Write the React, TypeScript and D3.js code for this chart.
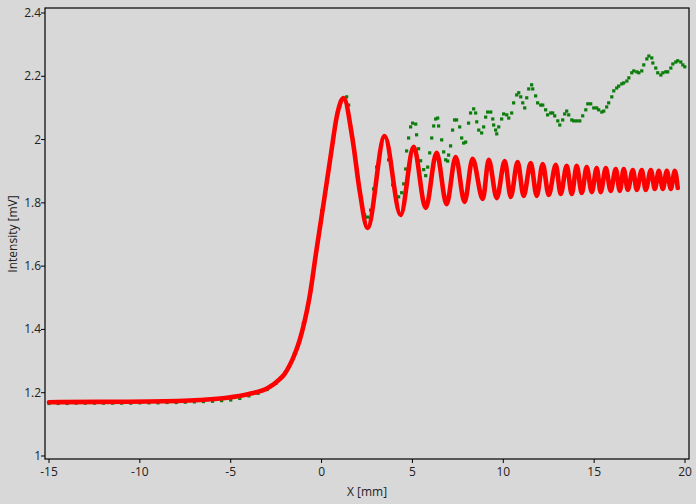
import React from "react";
import * as d3 from "d3";

const xTicks = [-15, -10, -5, 0, 5, 10, 15, 20];
const yTicks = [1, 1.2, 1.4, 1.6, 1.8, 2, 2.2, 2.4];
const xLabel = "X [mm]";
const yLabel = "Intensity [mV]";

// red (fitted/theoretical) curve: x, y
const redX = [-15.0, -12.2, -9.5, -6.7, -5.2, -4.0, -3.0, -2.3, -2.04, -1.76, -1.49, -1.21, -0.94, -0.66, -0.28, 0.14, 0.55, 0.83, 1.21, 1.71, 2.09,
  2.53, 3.47, 4.35, 5.07, 5.73, 6.33, 6.88, 7.38, 7.87, 8.31, 8.87, 9.2, 9.64, 10.08, 10.41, 10.79, 11.12, 11.51, 11.84, 12.17,
  12.5, 12.89, 13.16, 13.49, 13.77, 14.04, 14.32, 14.59, 14.87, 15.14, 15.36, 15.64, 15.91, 16.19, 16.41, 16.63, 16.85, 17.13,
  17.35, 17.62, 17.84, 18.12, 18.34, 18.56, 18.78, 19.0, 19.22, 19.44, 19.6];
const redY = [1.170, 1.171, 1.172, 1.177, 1.184, 1.196, 1.213, 1.243, 1.259, 1.286, 1.320, 1.365, 1.424, 1.503, 1.651, 1.809, 1.967, 2.071, 2.131, 1.999, 1.841,
  1.721, 2.011, 1.762, 1.977, 1.784, 1.958, 1.796, 1.945, 1.803, 1.939, 1.812, 1.936, 1.815, 1.932, 1.819, 1.929, 1.822, 1.926, 1.822, 1.923,
  1.825, 1.920, 1.828, 1.917, 1.828, 1.917, 1.831, 1.913, 1.834, 1.910, 1.834, 1.910, 1.838, 1.907, 1.838, 1.907, 1.841, 1.904,
  1.841, 1.904, 1.841, 1.904, 1.844, 1.901, 1.844, 1.901, 1.844, 1.901, 1.847];

const greenX = [-15, -14.5, -14, -13.5, -13, -12.5, -12, -11.5, -11, -10.5, -10, -9.5, -9, -8.5, -8, -7.5, -7, -6.5, -6, -5.5, -5, -4.5, -4, -3.5, -3, -2.5, -2, -1.5, -1, -0.5, 0, 0.5, 1.0,
  1.38, 1.49, 1.71, 2.09, 2.37, 2.53, 2.70, 2.86, 3.03, 3.19, 3.30, 3.47, 3.69, 3.91, 4.07, 4.24, 4.41, 4.52, 4.63, 4.68, 4.79, 4.90, 5.01,
  5.18, 5.23, 5.34, 5.45, 5.62, 5.73, 5.84, 5.95, 6.06, 6.17, 6.28, 6.39, 6.44, 6.61, 6.72, 6.83, 6.94, 6.99, 7.10, 7.21, 7.32, 7.43,
  7.60, 7.71, 7.82, 7.93, 8.09, 8.20, 8.37, 8.48, 8.54, 8.65, 8.81, 8.92, 9.03, 9.14, 9.31, 9.42, 9.47, 9.58, 9.64, 9.75, 9.91, 10.02,
  10.19, 10.30, 10.46, 10.57, 10.74, 10.85, 10.96, 11.07, 11.18, 11.29, 11.40, 11.56, 11.62, 11.78, 11.89, 12.06, 12.17, 12.33, 12.44,
  12.61, 12.72, 12.83, 13.00, 13.11, 13.27, 13.38, 13.49, 13.60, 13.77, 13.88, 14.04, 14.21, 14.37, 14.54, 14.65, 14.81, 14.98, 15.14,
  15.25, 15.42, 15.53, 15.69, 15.80, 15.97, 16.08, 16.24, 16.35, 16.52, 16.63, 16.80, 16.91, 17.07, 17.18, 17.35, 17.46, 17.62, 17.73,
  17.90, 18.01, 18.17, 18.23, 18.39, 18.50, 18.67, 18.78, 18.94, 19.05, 19.22, 19.33, 19.49, 19.60, 19.77, 19.88, 19.99];
const greenY = [1.166, 1.166, 1.166, 1.167, 1.167, 1.167, 1.167, 1.167, 1.167, 1.167, 1.168, 1.168, 1.168, 1.169, 1.169, 1.170, 1.171, 1.172, 1.173, 1.175, 1.177, 1.182, 1.190, 1.198, 1.210, 1.230, 1.262, 1.322, 1.420, 1.570, 1.775, 1.960, 2.105,
  2.135, 2.109, 1.999, 1.841, 1.762, 1.755, 1.777, 1.844, 1.913, 1.961, 1.983, 2.008, 1.936, 1.857, 1.822, 1.819, 1.832, 1.860, 1.907, 1.964, 2.005, 2.040, 2.052,
  2.049, 2.015, 1.971, 1.933, 1.905, 1.886, 1.913, 1.958, 2.005, 2.043, 2.065, 2.068, 2.043, 1.999, 1.961, 1.936, 1.932, 1.951, 1.980, 2.030, 2.062, 2.062,
  2.040, 2.005, 1.989, 1.992, 2.052, 2.084, 2.097, 2.084, 2.056, 2.030, 2.021, 2.040, 2.071, 2.087, 2.087, 2.065, 2.046, 2.030, 2.018, 2.040, 2.065, 2.081,
  2.078, 2.068, 2.084, 2.116, 2.141, 2.148, 2.135, 2.116, 2.100, 2.132, 2.160, 2.173, 2.160, 2.138, 2.116, 2.109, 2.109, 2.094, 2.078,
  2.084, 2.084, 2.075, 2.059, 2.046, 2.062, 2.081, 2.090, 2.078, 2.062, 2.059, 2.059, 2.059, 2.075, 2.094, 2.113, 2.113, 2.100, 2.100,
  2.094, 2.087, 2.090, 2.103, 2.116, 2.135, 2.154, 2.163, 2.169, 2.176, 2.179, 2.185, 2.195, 2.211, 2.217, 2.214, 2.211, 2.217, 2.236,
  2.255, 2.264, 2.258, 2.242, 2.226, 2.211, 2.204, 2.211, 2.214, 2.214, 2.226, 2.239, 2.245, 2.249, 2.245, 2.236, 2.230];

const W = 696, H = 504;
const L = 45, R = 689, T = 8, B = 459;
const FONT = "'Open Sans', 'Noto Sans', sans-serif";

export default function App() {
  const x = d3.scaleLinear().domain([-15.22, 20.22]).range([L, R]);
  const y = d3.scaleLinear().domain([0.9905, 2.4158]).range([B, T]);
  const redPts: [number, number][] = redX.map((v, i) => [v, redY[i]]);
  const line = d3.line<[number, number]>().x(d => x(d[0])).y(d => y(d[1])).curve(d3.curveMonotoneX);
  return (
    <svg width={W} height={H} style={{ position: "absolute", left: 0, top: 0, background: "#d8d8d8" }}>
      <rect x={0} y={0} width={W} height={H} fill="#d8d8d8" />
      <g>
        {greenX.map((v, i) => (
          <rect key={i} x={x(v) - 1.6} y={y(greenY[i]) - 1.6} width={3.2} height={3.2} fill="#0b7d0b" />
        ))}
      </g>
      <path d={line(redPts) || ""} fill="none" stroke="#ff0000" strokeWidth={4.6} strokeLinejoin="round" strokeLinecap="round" />
      <rect x={L} y={T} width={R - L} height={B - T} fill="none" stroke="#000" strokeWidth={1.2} />
      {xTicks.map(t => (
        <g key={t}>
          <line x1={x(t)} x2={x(t)} y1={B} y2={B + 4} stroke="#000" />
          <text x={x(t)} y={B + 17} textAnchor="middle" fontFamily={FONT} fontSize={12} fill="#222">{String(t)}</text>
        </g>
      ))}
      {yTicks.map(t => (
        <g key={t}>
          <line x1={L - 4} x2={L} y1={y(t)} y2={y(t)} stroke="#000" />
          <text x={L - 4} y={y(t) + 4} textAnchor="end" fontFamily={FONT} fontSize={12} fill="#222">{String(t)}</text>
        </g>
      ))}
      <text x={367} y={496} textAnchor="middle" fontFamily={FONT} fontSize={12} fill="#222">{xLabel}</text>
      <text transform={`translate(17,234) rotate(-90)`} textAnchor="middle" fontFamily={FONT} fontSize={12} fill="#222">{yLabel}</text>
    </svg>
  );
}
